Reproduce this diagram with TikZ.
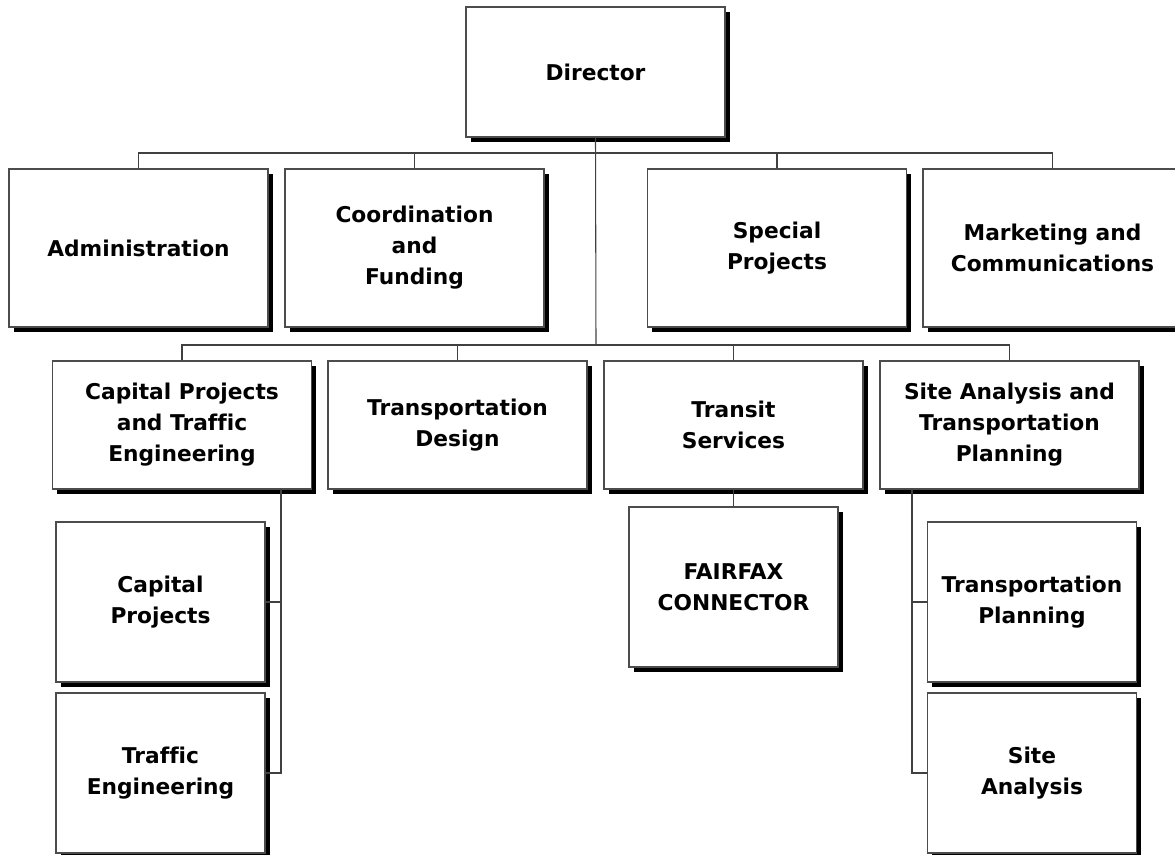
\documentclass[tikz,border=0pt]{standalone}
\usepackage{fontspec}
\setmainfont{DejaVu Sans}[Ligatures=NoCommon]
\usepackage{tikz}
\usetikzlibrary{shadows}

\tikzset{
  unitbox/.style={draw=black!70, fill=white, line width=0.9pt, align=center, inner sep=2pt,
    font=\bfseries\fontsize{16.3}{23.2}\selectfont,
    drop shadow={shadow xshift=3.5pt, shadow yshift=-3.5pt, fill=black, opacity=1}},
  headbox/.style={unitbox, minimum width=194.25pt, minimum height=97.5pt},
  staffbox/.style={unitbox, minimum width=194.25pt, minimum height=118.5pt},
  divbox/.style={unitbox, minimum width=194.25pt, minimum height=96pt},
  subbox/.style={unitbox, minimum width=156.75pt, minimum height=120pt},
  link/.style={draw=black!75, line width=0.8pt}
}

\begin{document}
\begin{tikzpicture}[x=0.75pt, y=-0.75pt]
\useasboundingbox (0,0) rectangle (1175,854);

% bus lines
\coordinate (staffbus) at (596,153);
\coordinate (divbus) at (596,345);
\coordinate (captrunk) at (281,489);
\coordinate (sitetrunk) at (912,489);

\node[headbox] (director) at (595.5,72) {Director};

% staff units
\node[staffbox] (admin) at (138.5,248) {Administration};
\node[staffbox] (coord) at (414.5,248) {Coordination\\and\\Funding};
\node[staffbox] (special) at (777,248) {Special\\Projects};
\node[staffbox] (marketing) at (1052.5,248) {Marketing and\\Communications};

% divisions
\node[divbox] (capital) at (182,425) {Capital Projects\\and Traffic\\Engineering};
\node[divbox] (design) at (457.5,425) {Transportation\\Design};
\node[divbox] (transit) at (733.5,425) {Transit\\Services};
\node[divbox] (siteplan) at (1009.5,425) {Site Analysis and\\Transportation\\Planning};

% sections
\node[subbox] (capproj) at (160.5,602) {Capital\\Projects};
\node[subbox] (traffic) at (160.5,773) {Traffic\\Engineering};
\node[subbox] (fairfax) at (733.5,587) {FAIRFAX\\CONNECTOR};
\node[subbox] (transplan) at (1032,602) {Transportation\\Planning};
\node[subbox] (siteana) at (1032,773) {Site\\Analysis};

% trunk
\draw[link] (director.south) -- (divbus);
\draw[link] (admin.north) |- (staffbus);
\draw[link] (coord.north) |- (staffbus);
\draw[link] (special.north) |- (staffbus);
\draw[link] (marketing.north) |- (staffbus);

\draw[link] (capital.north) |- (divbus);
\draw[link] (design.north) |- (divbus);
\draw[link] (transit.north) |- (divbus);
\draw[link] (siteplan.north) |- (divbus);

% sections
\draw[link] (captrunk) |- (capproj.east);
\draw[link] (captrunk) |- (traffic.east);
\draw[link] (transit.south) -- (fairfax.north);
\draw[link] (sitetrunk) |- (transplan.west);
\draw[link] (sitetrunk) |- (siteana.west);

\end{tikzpicture}
\end{document}
